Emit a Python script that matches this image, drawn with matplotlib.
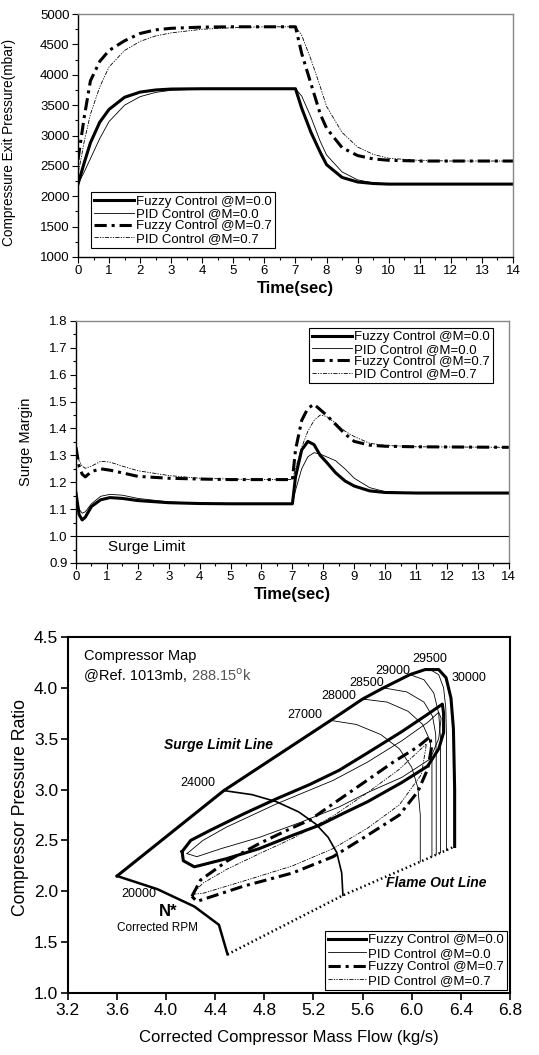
import matplotlib
matplotlib.use("Agg")
import matplotlib.pyplot as plt
from matplotlib.ticker import MultipleLocator, FormatStrFormatter

plt.rcParams['font.family'] = ['Liberation Sans', 'DejaVu Sans']

labels = ["Fuzzy Control @M=0.0", "PID Control @M=0.0",
          "Fuzzy Control @M=0.7", "PID Control @M=0.7"]

# ---- panel 1 : compressor exit pressure
t1 = [0, 0.2, 0.4, 0.7, 1.0, 1.5, 2.0, 2.5, 3.0, 4.0, 5.0, 6.0, 7.0,
      7.2, 7.5, 7.8, 8.0, 8.5, 9.0, 9.5, 10.0, 11, 12, 13, 14]
p_fuzzy0 = [2200, 2550, 2880, 3220, 3430, 3630, 3715, 3750, 3765, 3770, 3770, 3770, 3770,
            3450, 3050, 2720, 2520, 2310, 2235, 2210, 2200, 2200, 2200, 2200, 2200]
p_pid0 = [2200, 2400, 2620, 2950, 3230, 3500, 3640, 3710, 3745, 3765, 3770, 3770, 3770,
          3650, 3300, 2900, 2680, 2400, 2270, 2220, 2205, 2200, 2200, 2200, 2200]
p_fuzzy7 = [2600, 3300, 3900, 4220, 4400, 4560, 4680, 4740, 4765, 4785, 4790, 4790, 4790,
            4350, 3850, 3350, 3120, 2800, 2670, 2615, 2592, 2580, 2580, 2580, 2580]
p_pid7 = [2350, 2900, 3350, 3800, 4130, 4400, 4550, 4640, 4690, 4750, 4775, 4790, 4790,
          4650, 4250, 3800, 3480, 3050, 2810, 2690, 2625, 2590, 2580, 2580, 2580]

# ---- panel 2 : surge margin
t2 = [0, 0.1, 0.2, 0.3, 0.5, 0.8, 1.1, 1.5, 2, 3, 4, 5, 6, 7,
      7.1, 7.3, 7.5, 7.7, 7.9, 8.1, 8.4, 8.7, 9, 9.5, 10, 11, 14]
sm_fuzzy0 = [1.16, 1.08, 1.06, 1.07, 1.11, 1.135, 1.143, 1.14, 1.132, 1.124, 1.121, 1.12, 1.12, 1.12,
             1.22, 1.32, 1.352, 1.34, 1.30, 1.275, 1.235, 1.205, 1.186, 1.168, 1.162, 1.16, 1.16]
sm_pid0 = [1.16, 1.10, 1.085, 1.09, 1.12, 1.148, 1.155, 1.152, 1.14, 1.127, 1.122, 1.12, 1.12, 1.12,
           1.17, 1.25, 1.295, 1.31, 1.305, 1.295, 1.28, 1.25, 1.215, 1.18, 1.165, 1.16, 1.16]
sm_fuzzy7 = [1.33, 1.26, 1.23, 1.22, 1.24, 1.25, 1.245, 1.235, 1.222, 1.215, 1.212, 1.21, 1.21, 1.21,
             1.32, 1.43, 1.475, 1.49, 1.47, 1.45, 1.415, 1.38, 1.352, 1.338, 1.334, 1.332, 1.33]
sm_pid7 = [1.33, 1.28, 1.26, 1.252, 1.26, 1.278, 1.275, 1.26, 1.243, 1.225, 1.215, 1.212, 1.21, 1.21,
           1.25, 1.33, 1.39, 1.43, 1.45, 1.445, 1.42, 1.39, 1.37, 1.345, 1.337, 1.332, 1.33]

# ---- panel 3 : compressor map
surge_x = [3.60, 4.47, 5.34, 5.60, 5.77, 5.985, 6.11, 6.22, 6.28, 6.32, 6.34, 6.35, 6.35]
surge_y = [2.15, 2.99, 3.68, 3.89, 4.00, 4.13, 4.18, 4.18, 4.10, 3.90, 3.60, 3.00, 2.44]
n20000_x = [3.60, 3.93, 4.23, 4.43, 4.50]
n20000_y = [2.15, 2.02, 1.85, 1.67, 1.38]
n24000_x = [4.47, 4.70, 4.90, 5.08, 5.22, 5.32, 5.39, 5.43, 5.44]
n24000_y = [2.99, 2.95, 2.88, 2.78, 2.66, 2.53, 2.38, 2.18, 1.96]
n27000_x = [5.34, 5.55, 5.75, 5.90, 6.00, 6.05, 6.07, 6.07]
n27000_y = [3.68, 3.64, 3.54, 3.40, 3.22, 3.02, 2.75, 2.29]
n28000_x = [5.60, 5.80, 5.97, 6.09, 6.15, 6.165, 6.165]
n28000_y = [3.89, 3.86, 3.77, 3.64, 3.48, 3.30, 2.34]
n28500_x = [5.77, 5.96, 6.10, 6.17, 6.195, 6.20, 6.20]
n28500_y = [4.00, 3.96, 3.86, 3.72, 3.55, 3.35, 2.36]
n29000_x = [5.985, 6.10, 6.18, 6.22, 6.235, 6.235]
n29000_y = [4.13, 4.08, 3.95, 3.75, 3.50, 2.38]
n29500_x = [6.15, 6.22, 6.26, 6.278, 6.283, 6.283]
n29500_y = [4.18, 4.13, 4.00, 3.80, 3.55, 2.40]
flame_x = [4.50, 5.44, 6.07, 6.35]
flame_y = [1.38, 1.96, 2.29, 2.44]

map_fuzzy0_x = [4.13, 4.20, 4.36, 4.63, 4.90, 5.17, 5.41, 5.64, 5.92, 6.13, 6.25,
                6.26, 6.26, 6.22, 6.13, 5.92, 5.64, 5.45, 5.25, 5.03, 4.76, 4.49, 4.23, 4.14, 4.13]
map_fuzzy0_y = [2.39, 2.50, 2.60, 2.76, 2.91, 3.05, 3.19, 3.36, 3.57, 3.74, 3.84,
                3.75, 3.56, 3.40, 3.23, 3.07, 2.88, 2.77, 2.65, 2.55, 2.42, 2.32, 2.24, 2.30, 2.39]
map_pid0_x = [4.17, 4.30, 4.49, 4.90, 5.36, 5.64, 5.92, 6.13, 6.22,
              6.24, 6.22, 6.15, 5.92, 5.64, 5.41, 5.10, 4.76, 4.45, 4.25, 4.17]
map_pid0_y = [2.37, 2.50, 2.63, 2.86, 3.09, 3.27, 3.48, 3.66, 3.76,
              3.70, 3.50, 3.30, 3.12, 2.97, 2.83, 2.68, 2.53, 2.42, 2.34, 2.37]
map_fuzzy7_x = [4.21, 4.28, 4.50, 4.76, 5.02, 5.17, 5.36, 5.60, 5.85, 6.05, 6.15,
                6.16, 6.13, 6.05, 5.90, 5.64, 5.36, 5.03, 4.63, 4.25, 4.21]
map_fuzzy7_y = [1.95, 2.11, 2.30, 2.47, 2.62, 2.70, 2.86, 3.06, 3.27, 3.42, 3.52,
                3.40, 3.20, 2.98, 2.75, 2.55, 2.34, 2.18, 2.05, 1.90, 1.95]
map_pid7_x = [4.21, 4.30, 4.50, 4.76, 5.03, 5.36, 5.64, 5.90, 6.05, 6.12,
              6.08, 5.90, 5.64, 5.36, 5.03, 4.63, 4.30, 4.21]
map_pid7_y = [1.97, 2.08, 2.22, 2.37, 2.52, 2.74, 2.97, 3.20, 3.37, 3.45,
              3.15, 2.85, 2.62, 2.42, 2.25, 2.10, 1.98, 1.97]

speed_labels = ["24000", "27000", "28000", "28500", "29000", "29500", "30000", "20000"]
speed_lab_x = [4.26, 5.13, 5.41, 5.63, 5.85, 6.15, 6.47, 3.78]
speed_lab_y = [3.06, 3.73, 3.92, 4.05, 4.17, 4.28, 4.10, 1.97]

# line styles
st_fuzzy0 = dict(color='black', lw=2.2, ls='-')
st_pid0 = dict(color='black', lw=0.6, ls='-')
st_fuzzy7 = dict(color='black', lw=2.2, ls=(0, (4, 1.6, 1, 1.6)))
st_pid7 = dict(color='black', lw=0.6, ls=(0, (5, 1.5, 1.5, 1.5, 1.5, 1.5)))

fig = plt.figure(figsize=(5.39, 10.55), dpi=100)


def style_time_axis(ax):
    for s in ['left', 'bottom']:
        ax.spines[s].set_color('black')
        ax.spines[s].set_linewidth(1.0)
    for s in ['top', 'right']:
        ax.spines[s].set_color('#888888')
        ax.spines[s].set_linewidth(1.0)
    ax.tick_params(which='both', direction='out', labelsize=9.5, width=0.8, pad=2)
    ax.tick_params(which='major', length=4)
    ax.tick_params(which='minor', length=2)
    ax.xaxis.set_major_locator(MultipleLocator(1))
    ax.xaxis.set_minor_locator(MultipleLocator(0.5))
    ax.set_xlim(0, 14)


def add_legend(ax, loc, anchor):
    lg = ax.legend(loc=loc, bbox_to_anchor=anchor, fontsize=9.5,
                   frameon=True, fancybox=False, edgecolor='black', framealpha=1,
                   handlelength=3.0, handletextpad=0.15, labelspacing=0.0,
                   borderpad=0.25, borderaxespad=0)
    lg.get_frame().set_linewidth(0.8)
    return lg


# top panel
ax1 = fig.add_axes([0.1447, 0.7564, 0.807, 0.2303])
ax1.plot(t1, p_fuzzy0, **st_fuzzy0, label=labels[0])
ax1.plot(t1, p_pid0, **st_pid0, label=labels[1])
ax1.plot(t1, p_fuzzy7, **st_fuzzy7, label=labels[2])
ax1.plot(t1, p_pid7, **st_pid7, label=labels[3])
style_time_axis(ax1)
ax1.set_ylim(1000, 5000)
ax1.yaxis.set_major_locator(MultipleLocator(500))
ax1.yaxis.set_minor_locator(MultipleLocator(250))
ax1.set_ylabel("Compressure Exit Pressure(mbar)", fontsize=9.8)
ax1.yaxis.set_label_coords(-0.142, 0.47)
ax1.set_xlabel("Time(sec)", fontsize=12, fontweight='bold', labelpad=3)
add_legend(ax1, 'lower left', (0.03, 0.037))

# middle panel
ax2 = fig.add_axes([0.141, 0.4664, 0.803, 0.2294])
ax2.plot(t2, sm_fuzzy0, **st_fuzzy0, label=labels[0])
ax2.plot(t2, sm_pid0, **st_pid0, label=labels[1])
ax2.plot(t2, sm_fuzzy7, **st_fuzzy7, label=labels[2])
ax2.plot(t2, sm_pid7, **st_pid7, label=labels[3])
ax2.axhline(1.0, color='black', lw=0.8)
ax2.text(1.05, 0.958, "Surge Limit", fontsize=11, va='center')
style_time_axis(ax2)
ax2.set_ylim(0.9, 1.8)
ax2.yaxis.set_major_locator(MultipleLocator(0.1))
ax2.yaxis.set_minor_locator(MultipleLocator(0.05))
ax2.yaxis.set_major_formatter(FormatStrFormatter('%.1f'))
ax2.set_ylabel("Surge Margin", fontsize=10.5)
ax2.yaxis.set_label_coords(-0.1, 0.5)
ax2.set_xlabel("Time(sec)", fontsize=12, fontweight='bold', labelpad=3)
add_legend(ax2, 'upper right', (0.963, 0.971))

# bottom panel
ax3 = fig.add_axes([0.126, 0.0588, 0.820, 0.3374])
ax3.plot(surge_x, surge_y, color='black', lw=2.2)
ax3.plot(n20000_x, n20000_y, color='black', lw=1.8)
ax3.plot(n24000_x, n24000_y, color='black', lw=1.2)
for sx, sy in [(n27000_x, n27000_y), (n28000_x, n28000_y), (n28500_x, n28500_y),
               (n29000_x, n29000_y), (n29500_x, n29500_y)]:
    ax3.plot(sx, sy, color='black', lw=0.6)
ax3.plot(flame_x, flame_y, color='black', lw=1.8, ls=(0, (0.6, 1.2)))
ax3.plot(map_fuzzy0_x, map_fuzzy0_y, **st_fuzzy0, label=labels[0])
ax3.plot(map_pid0_x, map_pid0_y, **st_pid0, label=labels[1])
ax3.plot(map_fuzzy7_x, map_fuzzy7_y, **st_fuzzy7, label=labels[2])
ax3.plot(map_pid7_x, map_pid7_y, **st_pid7, label=labels[3])

for s, x, y in zip(speed_labels, speed_lab_x, speed_lab_y):
    ax3.text(x, y, s, fontsize=9, ha='center', va='center')
ax3.text(3.33, 4.31, "Compressor Map", fontsize=10.5, va='center')
ref_txt = ax3.text(3.33, 4.12, "@Ref. 1013mb, ", fontsize=10.5, va='center')
ax3.annotate("288.15$^{\\rm o}$k", xy=(1, 0.5), xycoords=ref_txt, va='center',
             fontsize=10.5, color='#555555')
ax3.text(4.43, 3.44, "Surge Limit Line", fontsize=10, fontweight='bold', style='italic',
         ha='center', va='center')
ax3.text(6.2, 2.08, "Flame Out Line", fontsize=10, fontweight='bold', style='italic',
         ha='center', va='center')
ax3.text(4.02, 1.80, "N*", fontsize=12, fontweight='bold', ha='center', va='center')
ax3.text(3.93, 1.64, "Corrected RPM", fontsize=8.5, ha='center', va='center')

ax3.set_xlim(3.2, 6.8)
ax3.set_ylim(1.0, 4.5)
ax3.xaxis.set_major_locator(MultipleLocator(0.4))
ax3.yaxis.set_major_locator(MultipleLocator(0.5))
ax3.xaxis.set_major_formatter(FormatStrFormatter('%.1f'))
ax3.yaxis.set_major_formatter(FormatStrFormatter('%.1f'))
for s in ax3.spines.values():
    s.set_linewidth(1.5)
ax3.tick_params(direction='out', labelsize=12.5, length=5, width=1.2, pad=2)
ax3.set_xlabel("Corrected Compressor Mass Flow (kg/s)", fontsize=12, labelpad=9)
ax3.set_ylabel("Compressor Pressure Ratio", fontsize=12.7)
ax3.yaxis.set_label_coords(-0.088, 0.52)
lg3 = ax3.legend(loc='lower right', bbox_to_anchor=(0.993, 0.008), fontsize=9.5,
                 frameon=True, fancybox=False, edgecolor='black', framealpha=1,
                 handlelength=2.9, handletextpad=0.1, labelspacing=0.1,
                 borderpad=0.25, borderaxespad=0)
lg3.get_frame().set_linewidth(0.8)

fig.savefig("out.png", dpi=100)
